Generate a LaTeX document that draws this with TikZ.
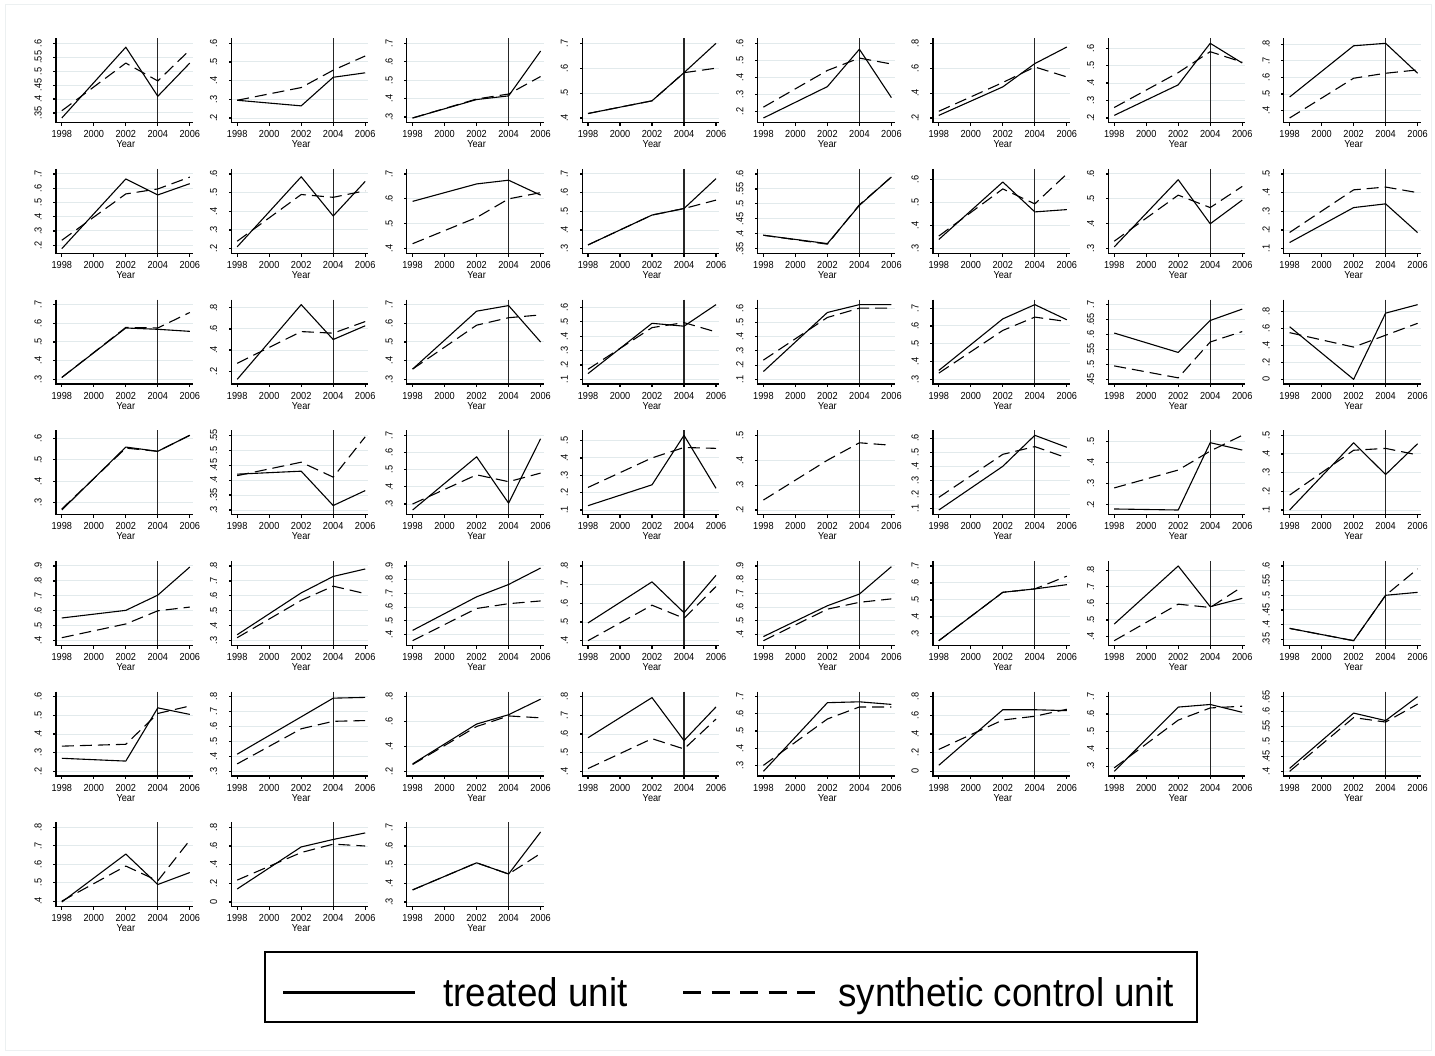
\documentclass[tikz,border=0pt]{standalone}
\usepackage{fontspec}
\newfontfamily\labfont[FakeStretch=0.9]{Liberation Sans}
\newfontfamily\legfont[FakeStretch=0.92]{Liberation Sans}
\definecolor{gridc}{RGB}{226,234,236}
\definecolor{framec}{RGB}{236,240,241}
\tikzset{
  declare function={yy(\q)=118-(\q-\lo)*74.7/(\hi-\lo);},
  gridl/.style={draw=gridc, line width=0.5pt},
  axl/.style={draw=black, line width=0.6pt},
  vl/.style={draw=black!85, line width=0.6pt},
  treated/.style={draw=black, line width=0.55pt, line join=round},
  synth/.style={draw=black, line width=0.55pt, line join=round, dash pattern=on 6pt off 3pt},
  ylab/.style={rotate=90, anchor=base, inner sep=0pt, font=\labfont\fontsize{5.1}{6}\selectfont},
  xlab/.style={anchor=base, inner sep=0pt, font=\labfont\fontsize{5.1}{6}\selectfont},
  legtext/.style={anchor=base west, inner sep=0pt, font=\legfont\fontsize{20}{24}\selectfont},
  legbox/.style={draw=black, line width=1pt, fill=white, minimum width=466pt, minimum height=35pt, inner sep=0pt},
  legsolid/.style={draw=black, line width=1.5pt},
  legdash/.style={draw=black, line width=1.5pt, dash pattern=on 9pt off 5.25pt}
}
\pgfkeys{/pgf/number format/.cd, fixed, precision=2, skip 0., assume math mode=true}
\def\dline#1#2,#3,#4,#5;{\draw[#1] (5.8,{yy(#2)}) -- (69.8,{yy(#3)}) -- (101.8,{yy(#4)}) -- (133.8,{yy(#5)});}
\newcommand\panel[5]{%
\begin{scope}[shift={({56+175.4*#1},{130.67*#2})}]
  \if\relax\detokenize{#4}\relax
    \pgfmathsetmacro\lo{min(#3,#5)}\pgfmathsetmacro\hi{max(#3,#5)}%
  \else
    \pgfmathsetmacro\lo{min(#3,#4,#5)}\pgfmathsetmacro\hi{max(#3,#4,#5)}%
  \fi
  \foreach \v in {#3} {\draw[gridl] (0,{yy(\v)}) -- (137,{yy(\v)});}
  \draw[vl] (101.8,38.3) -- (101.8,122.7);
  \if\relax\detokenize{#4}\relax\else\dline{treated}#4;\fi
  \dline{synth}#5;
  \draw[axl] (0,38.3) -- (0,122.7) -- (137,122.7);
  \foreach \v [count=\k] in {#3} {
    \draw[axl] (0,{yy(\v)}) -- (-2.7,{yy(\v)});
    \node[ylab] (p#1r#2y\k) at (-14.3,{yy(\v)}) {\pgfmathprintnumber{\v}};
  }
  \foreach \yr [count=\k] in {1998,2000,2002,2004,2006} {
    \draw[axl] ({5.8+16*(\yr-1998)},122.7) -- ++(0,3.3);
    \node[xlab] (p#1r#2x\k) at ({5.8+16*(\yr-1998)},137.7) {\yr};
  }
  \node[xlab] (p#1r#2t) at (69.8,147.7) {Year};
\end{scope}}
\begin{document}
\begin{tikzpicture}[x=0.5pt,y=-0.5pt]
\useasboundingbox (0,0) rectangle (1435,1055);
\fill[white] (0,0) rectangle (1435,1055);
\draw[framec, line width=0.5pt] (5.5,4.5) rectangle (1431,1050);
% row 1
\panel{0}{0}{0.35,0.4,0.45,0.5,0.55,0.6}{0.332,0.586,0.41,0.529}{0.358,0.529,0.465,0.576}
\panel{1}{0}{0.2,0.3,0.4,0.5,0.6}{0.295,0.265,0.418,0.442}{0.295,0.363,0.456,0.532}
\panel{2}{0}{0.3,0.4,0.5,0.6,0.7}{0.295,0.395,0.415,0.658}{0.295,0.398,0.425,0.52}
\panel{3}{0}{0.4,0.5,0.6,0.7}{0.418,0.469,0.582,0.70}{0.418,0.469,0.582,0.60}
\panel{4}{0}{0.2,0.3,0.4,0.5,0.6}{0.16,0.345,0.565,0.28}{0.224,0.44,0.513,0.478}
\panel{5}{0}{0.2,0.4,0.6,0.8}{0.221,0.45,0.637,0.77}{0.254,0.485,0.61,0.53}
\panel{6}{0}{0.2,0.3,0.4,0.5,0.6}{0.215,0.39,0.628,0.515}{0.26,0.46,0.58,0.52}
\panel{7}{0}{0.4,0.5,0.6,0.7,0.8}{0.482,0.79,0.805,0.625}{0.356,0.595,0.625,0.645}
% row 2
\panel{0}{1}{0.2,0.3,0.4,0.5,0.6,0.7}{0.176,0.665,0.553,0.632}{0.235,0.56,0.595,0.678}
\panel{1}{1}{0.2,0.3,0.4,0.5,0.6}{0.21,0.585,0.375,0.56}{0.24,0.49,0.475,0.51}
\panel{2}{1}{0.4,0.5,0.6,0.7}{0.59,0.66,0.675,0.615}{0.42,0.525,0.60,0.625}
\panel{3}{1}{0.3,0.4,0.5,0.6,0.7}{0.32,0.48,0.515,0.675}{0.32,0.48,0.515,0.56}
\panel{4}{1}{0.35,0.4,0.45,0.5,0.55,0.6}{0.395,0.367,0.495,0.59}{0.395,0.365,0.497,0.59}
\panel{5}{1}{0.3,0.4,0.5,0.6}{0.34,0.59,0.46,0.47}{0.355,0.56,0.495,0.625}
\panel{6}{1}{0.3,0.4,0.5,0.6}{0.307,0.577,0.40,0.495}{0.33,0.515,0.465,0.55}
\panel{7}{1}{0.1,0.2,0.3,0.4,0.5}{0.133,0.32,0.34,0.186}{0.187,0.415,0.43,0.40}
% row 3
\panel{0}{2}{0.3,0.4,0.5,0.6,0.7}{0.31,0.575,0.568,0.557}{0.31,0.578,0.575,0.658}
\panel{1}{2}{0.2,0.4,0.6,0.8}{0.123,0.83,0.50,0.63}{0.275,0.575,0.56,0.67}
\panel{2}{2}{0.3,0.4,0.5,0.6,0.7}{0.355,0.665,0.695,0.50}{0.355,0.59,0.63,0.645}
\panel{3}{2}{0.1,0.2,0.3,0.4,0.5,0.6}{0.14,0.49,0.47,0.62}{0.17,0.46,0.495,0.43}
\panel{4}{2}{0.1,0.2,0.3,0.4,0.5,0.6}{0.155,0.57,0.625,0.625}{0.235,0.535,0.60,0.60}
\panel{5}{2}{0.3,0.4,0.5,0.6,0.7}{0.35,0.64,0.72,0.635}{0.335,0.575,0.65,0.625}
\panel{6}{2}{0.45,0.5,0.55,0.6,0.65,0.7}{0.605,0.54,0.647,0.685}{0.495,0.455,0.575,0.61}
\panel{7}{2}{0,0.2,0.4,0.6,0.8}{0.62,0.0,0.78,0.88}{0.55,0.38,0.52,0.66}
% row 4
\panel{0}{3}{0.3,0.4,0.5,0.6}{0.265,0.56,0.54,0.615}{0.27,0.555,0.54,0.615}
\panel{1}{3}{0.3,0.35,0.4,0.45,0.5,0.55}{0.42,0.43,0.315,0.365}{0.415,0.46,0.41,0.545}
\panel{2}{3}{0.3,0.4,0.5,0.6,0.7}{0.265,0.575,0.305,0.68}{0.30,0.47,0.43,0.48}
\panel{3}{3}{0.1,0.2,0.3,0.4,0.5}{0.125,0.245,0.53,0.225}{0.23,0.40,0.46,0.455}
\panel{4}{3}{0.2,0.3,0.4,0.5}{}{0.24,0.40,0.47,0.46}
\panel{5}{3}{0.1,0.2,0.3,0.4,0.5,0.6}{0.09,0.40,0.62,0.535}{0.18,0.485,0.54,0.46}
\panel{6}{3}{0.2,0.3,0.4,0.5}{0.18,0.175,0.495,0.46}{0.28,0.365,0.455,0.53}
\panel{7}{3}{0.1,0.2,0.3,0.4,0.5}{0.10,0.46,0.29,0.455}{0.18,0.42,0.43,0.395}
% row 5
\panel{0}{4}{0.4,0.5,0.6,0.7,0.8,0.9}{0.552,0.603,0.705,0.893}{0.42,0.512,0.60,0.625}
\panel{1}{4}{0.3,0.4,0.5,0.6,0.7,0.8}{0.34,0.62,0.73,0.78}{0.32,0.57,0.665,0.615}
\panel{2}{4}{0.4,0.5,0.6,0.7,0.8,0.9}{0.43,0.675,0.765,0.885}{0.355,0.59,0.625,0.645}
\panel{3}{4}{0.4,0.5,0.6,0.7,0.8}{0.495,0.715,0.55,0.75}{0.40,0.59,0.52,0.69}
\panel{4}{4}{0.4,0.5,0.6,0.7,0.8,0.9}{0.385,0.61,0.695,0.895}{0.355,0.585,0.635,0.66}
\panel{5}{4}{0.3,0.4,0.5,0.6,0.7}{0.26,0.545,0.565,0.59}{0.26,0.545,0.565,0.64}
\panel{6}{4}{0.4,0.5,0.6,0.7,0.8}{0.475,0.825,0.58,0.63}{0.375,0.595,0.575,0.70}
\panel{7}{4}{0.35,0.4,0.45,0.5,0.55,0.6}{0.387,0.345,0.50,0.51}{0.387,0.345,0.50,0.59}
% row 6
\panel{0}{5}{0.2,0.3,0.4,0.5,0.6}{0.27,0.255,0.54,0.505}{0.335,0.345,0.51,0.55}
\panel{1}{5}{0.3,0.4,0.5,0.6,0.7,0.8}{0.415,0.665,0.79,0.795}{0.35,0.585,0.635,0.64}
\panel{2}{5}{0.2,0.4,0.6,0.8}{0.26,0.58,0.655,0.78}{0.255,0.56,0.645,0.63}
\panel{3}{5}{0.4,0.5,0.6,0.7,0.8}{0.58,0.795,0.565,0.745}{0.415,0.575,0.52,0.68}
\panel{4}{5}{0.3,0.4,0.5,0.6,0.7}{0.265,0.665,0.67,0.655}{0.30,0.57,0.64,0.64}
\panel{5}{5}{0,0.2,0.4,0.6,0.8}{0.065,0.66,0.66,0.65}{0.235,0.55,0.59,0.665}
\panel{6}{5}{0.3,0.4,0.5,0.6,0.7}{0.27,0.64,0.655,0.61}{0.29,0.565,0.635,0.645}
\panel{7}{5}{0.4,0.45,0.5,0.55,0.6,0.65}{0.41,0.595,0.57,0.65}{0.40,0.58,0.565,0.625}
% row 7
\panel{0}{6}{0.4,0.5,0.6,0.7,0.8}{0.395,0.655,0.49,0.555}{0.40,0.59,0.51,0.73}
\panel{1}{6}{0,0.2,0.4,0.6,0.8}{0.14,0.59,0.67,0.74}{0.235,0.53,0.62,0.60}
\panel{2}{6}{0.3,0.4,0.5,0.6,0.7}{0.365,0.51,0.45,0.675}{0.365,0.51,0.45,0.56}
% legend
\node[legbox] (legend) at (731,987) {};
\coordinate (ls1) at (283,992); \coordinate (ls2) at (415,992);
\coordinate (ld1) at (683,992); \coordinate (ld2) at (815,992);
\draw[legsolid] (ls1) -- (ls2);
\draw[legdash] (ld1) -- (ld2);
\node[legtext] (lt1) at (443,1006) {treated unit};
\node[legtext] (lt2) at (838,1006) {synthetic control unit};
\end{tikzpicture}
\end{document}
